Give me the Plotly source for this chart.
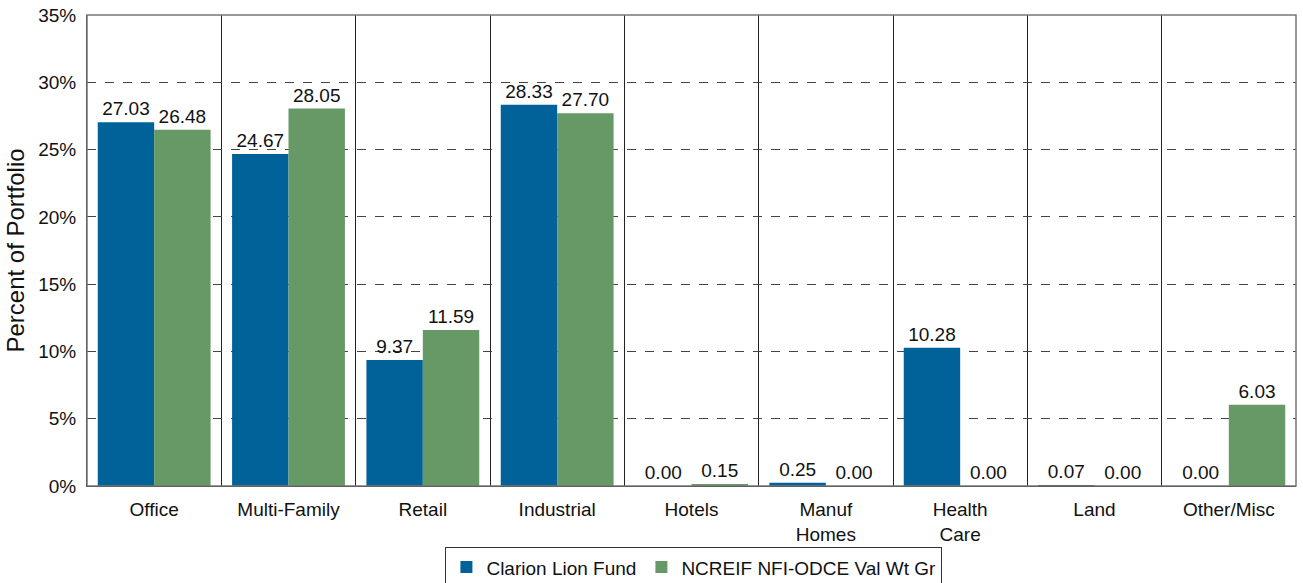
import plotly.graph_objects as go

categories = ["Office", "Multi-Family", "Retail", "Industrial", "Hotels",
              "Manuf<br>Homes", "Health<br>Care", "Land", "Other/Misc"]
clarion = [27.03, 24.67, 9.37, 28.33, 0.00, 0.25, 10.28, 0.07, 0.00]
ncreif = [26.48, 28.05, 11.59, 27.70, 0.15, 0.00, 0.00, 0.00, 6.03]
series_names = ["Clarion Lion Fund", "NCREIF NFI-ODCE Val Wt Gr"]
y_ticks = [0, 5, 10, 15, 20, 25, 30, 35]

BLUE = "#006299"
GREEN = "#669966"
FONT = "Liberation Sans, Arial, sans-serif"

fig = go.Figure()
for name, vals, col in [(series_names[0], clarion, BLUE), (series_names[1], ncreif, GREEN)]:
    fig.add_trace(go.Bar(
        x=categories, y=vals, name=name, marker=dict(color=col, line=dict(width=0)),
        text=[f"{v:.2f}" for v in vals], textposition="outside", cliponaxis=False,
        textfont=dict(size=19, color="#111111", family=FONT),
    ))

fig.update_layout(
    width=1303, height=583,
    margin=dict(l=87, r=7, t=15, b=97, autoexpand=False),
    paper_bgcolor="white", plot_bgcolor="white",
    barmode="group", bargap=0.16, bargroupgap=0,
    font=dict(family=FONT, color="#111111"),
    legend=dict(orientation="h", x=0.502, xanchor="center", xref="paper",
                y=-0.13, yanchor="top",
                bordercolor="#333333", borderwidth=1,
                font=dict(size=19, family=FONT), itemwidth=30,
                traceorder="normal"),
    showlegend=True,
)
fig.update_xaxes(
    tickson="boundaries", showgrid=True, gridcolor="#222222", gridwidth=1,
    ticks="", tickfont=dict(size=19, family=FONT), ticklabelstandoff=6,
    showline=True, linecolor="#222222", linewidth=1, mirror=False,
    automargin=False,
)
fig.update_yaxes(
    range=[0, 35], tickvals=y_ticks, ticktext=[f"{v}%" for v in y_ticks],
    showgrid=True, gridcolor="#444444", griddash="dash", gridwidth=1,
    tickfont=dict(size=19, family=FONT), ticks="", ticklabelstandoff=6,
    ticklabeloverflow="allow",
    showline=True, linecolor="#222222", linewidth=1,
    zeroline=False, automargin=False,
    title=dict(text="Percent of Portfolio", font=dict(size=24, family=FONT), standoff=6),
)
fig.update_layout(shapes=[dict(type="rect", xref="paper", yref="paper", x0=0, x1=1, y0=0, y1=1,
                               line=dict(color="#777777", width=1.5), layer="above")])
fig.write_html("out.html", config={"displayModeBar": False},
               post_script="document.body.style.margin='0';document.body.style.overflow='hidden';")
